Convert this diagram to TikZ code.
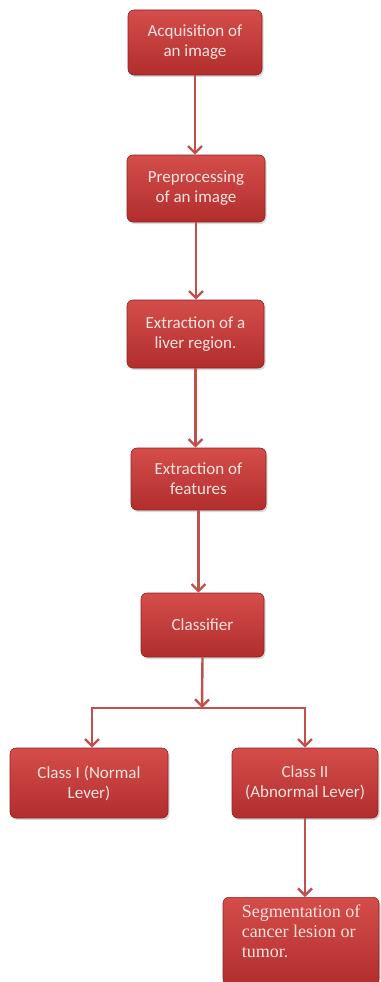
\documentclass[tikz,border=0pt]{standalone}
\usepackage{fontspec}
\setmainfont{Carlito}
\newfontfamily\segfont{Liberation Serif}
\usetikzlibrary{arrows.meta,shadows}
\definecolor{boxtop}{HTML}{D44D4A}
\definecolor{boxbot}{HTML}{B12E2D}
\definecolor{boxline}{HTML}{8E2222}
\definecolor{boxtext}{HTML}{F8E4E0}
\definecolor{linkred}{HTML}{C0504D}
\tikzset{
  stepbox/.style={draw=boxline, line width=0.6pt, rounded corners=6pt,
    top color=boxtop, bottom color=boxbot, text=boxtext,
    font=\fontsize{17}{20}\selectfont, align=center,
    drop shadow={opacity=0.3, shadow xshift=1.5pt, shadow yshift=-2pt}},
  link/.style={draw=linkred, line width=2.4pt,
    -{Straight Barb[length=7pt,width=14pt,line width=2.4pt]}}
}
\begin{document}
\begin{tikzpicture}[x=1pt,y=-1pt]
  \useasboundingbox (0,0) rectangle (380,982);
  \node[stepbox, minimum width=134pt, minimum height=65pt] (acq) at (195,42.5) {Acquisition of\\an image};
  \node[stepbox, minimum width=138pt, minimum height=67pt] (pre) at (196,188.5) {Preprocessing\\of an image};
  \node[stepbox, minimum width=137pt, minimum height=68pt] (liver) at (195.5,334) {Extraction of a\\liver region.};
  \node[stepbox, minimum width=135pt, minimum height=62pt] (feat) at (198.5,479) {Extraction of\\features};
  \node[stepbox, minimum width=123pt, minimum height=64pt] (clas) at (202.5,625) {Classifier};
  \node[stepbox, minimum width=158pt, minimum height=70pt] (cl1) at (89,783) {Class I (Normal\\Lever)};
  \node[stepbox, minimum width=146pt, minimum height=70pt] (cl2) at (305,783) {Class II\\(Abnormal Lever)};
  \node[stepbox, anchor=north, minimum width=156pt, inner ysep=8pt, text depth=19pt, align=left,
    font=\segfont\fontsize{18}{20}\selectfont] (seg) at (301,897) {Segmentation of\\cancer lesion or\\tumor.};
  \coordinate (jn) at (202,708);
  \begin{scope}[link]
    \draw (acq.south) -- (acq.south |- pre.north);
    \draw (pre.south) -- (pre.south |- liver.north);
    \draw (liver.south) -- (liver.south |- feat.north);
    \draw (feat.south) -- (feat.south |- clas.north);
    \draw (clas.south) -- (jn);
    \draw (jn) -| ([xshift=3pt]cl1.north);
    \draw (jn) -| (cl2.north);
    \draw (cl2.south) -- (cl2.south |- seg.north);
  \end{scope}
\end{tikzpicture}
\end{document}
